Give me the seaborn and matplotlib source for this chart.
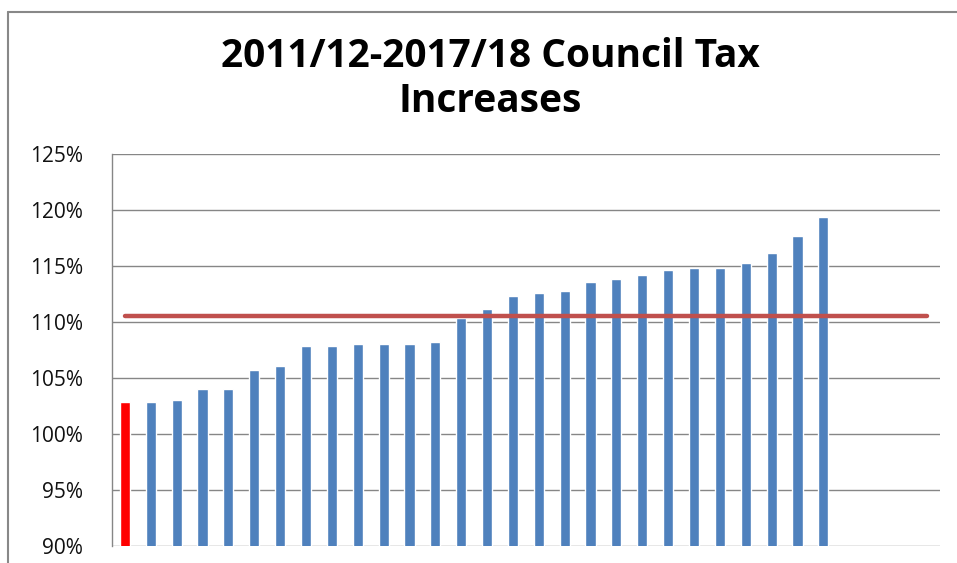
import numpy as np
import pandas as pd
import matplotlib.pyplot as plt
from matplotlib.lines import Line2D
import seaborn as sns

# council tax increase over the period, sorted (first one highlighted)
councils = [f"C{i + 1}" for i in range(32)]
increase = [102.9, 102.9, 103.0, 104.0, 104.0, 105.7, 106.1, 107.9, 107.9, 108.0,
            108.0, 108.0, 108.2, 110.4, 111.2, 112.3, 112.6, 112.8, 113.6, 113.8,
            114.2, 114.6, 114.8, 114.8, 115.3, 116.2, 117.7, 119.4]
average = [110.5] * len(councils)
y_ticks = [90, 95, 100, 105, 110, 115, 120, 125]

bar_colors = ["#FF0000"] + ["#4F81BD"] * (len(increase) - 1)

df_bars = pd.DataFrame({"council": councils[:len(increase)], "increase": increase})
df_avg = pd.DataFrame({"pos": np.arange(len(councils)), "average": average})

sns.set_theme(style="white")
plt.rcParams['font.family'] = ['Open Sans', 'DejaVu Sans']

fig = plt.figure(figsize=(9.57, 5.63), dpi=100)
ax = fig.add_axes([0.117, 0.0302, 0.865, 0.6963])

sns.barplot(data=df_bars, x="council", y="increase", hue="council", order=councils,
            palette=bar_colors, width=0.39, legend=False, ax=ax, saturation=1)
sns.lineplot(data=df_avg, x="pos", y="average", color="#C0504D", linewidth=3.2,
             solid_capstyle="round", ax=ax)

ax.set_ylim(90, 125)
ax.set_xlim(-0.5, len(councils) - 0.5)
ax.set_yticks(y_ticks)
ax.set_yticklabels([f"{t}%" for t in y_ticks], fontsize=15, color="#111111")
ax.tick_params(axis="y", length=0, pad=21)
ax.set_xticks([])
ax.set_xlabel("")
ax.set_ylabel("")
ax.yaxis.grid(True, color="#868686", linewidth=1)
ax.set_axisbelow(True)
for side in ["top", "right", "bottom"]:
    ax.spines[side].set_visible(False)
ax.spines["left"].set_color("#868686")
ax.spines["left"].set_linewidth(1)

fig.text(0.512, 0.86, "2011/12-2017/18 Council Tax\nIncreases", ha="center", va="center",
         fontsize=28, fontweight="bold", linespacing=1.2, color="black")

# outer chart frame (left and top edges visible)
fig.add_artist(Line2D([8 / 957, 8 / 957], [0, 1 - 12 / 563], color="#888888", linewidth=1.5))
fig.add_artist(Line2D([8 / 957, 1], [1 - 12 / 563, 1 - 12 / 563], color="#888888", linewidth=1.5))

fig.savefig("out.png", dpi=100, facecolor="white")
